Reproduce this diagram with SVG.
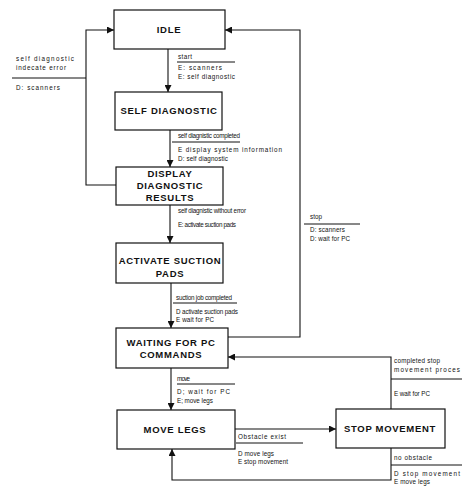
<svg xmlns="http://www.w3.org/2000/svg" width="462" height="488" viewBox="0 0 462 488">
<style>
.box{fill:#fff;stroke:#111;stroke-width:1.2}
.bt{font-family:"Liberation Sans",Arial,sans-serif;font-weight:bold;font-size:9.5px;letter-spacing:0.7px;fill:#111;text-anchor:middle}
.lb{font-family:"Liberation Sans",Arial,sans-serif;font-size:6.3px;fill:#111}
.ln{stroke:#111;stroke-width:1.1;fill:none}
.ul{stroke:#111;stroke-width:1}
</style>
<defs>
<marker id="ah" viewBox="0 0 10 10" refX="10" refY="5" markerWidth="7" markerHeight="7" orient="auto" markerUnits="userSpaceOnUse">
<path d="M0,0 L10,5 L0,10 z" fill="#111"/>
</marker>
</defs>
<rect width="462" height="488" fill="#fff"/>

<g id="connectors">
<path class="ln" d="M168,49 V92" marker-end="url(#ah)"/>
<path class="ln" d="M170,130 V167" marker-end="url(#ah)"/>
<path class="ln" d="M170,205 V243" marker-end="url(#ah)"/>
<path class="ln" d="M171,283 V328" marker-end="url(#ah)"/>
<path class="ln" d="M171,368 V410" marker-end="url(#ah)"/>
<path class="ln" d="M116,185 H86 V30 H114" marker-end="url(#ah)"/>
<path class="ln" d="M228,337 H300 V30 H225" marker-end="url(#ah)"/>
<path class="ln" d="M235,429 H336" marker-end="url(#ah)"/>
<path class="ln" d="M391,409 V357 H228" marker-end="url(#ah)"/>
<path class="ln" d="M391,448 V480 H172 V449" marker-end="url(#ah)"/>

<line class="ul" x1="12" y1="78" x2="86" y2="78"/>
<line class="ul" x1="177" y1="62" x2="235" y2="62"/>
<line class="ul" x1="172" y1="142" x2="240" y2="142"/>
<line class="ul" x1="304" y1="224" x2="360" y2="224"/>
<line class="ul" x1="173" y1="303" x2="237" y2="303"/>
<line class="ul" x1="177" y1="384" x2="235" y2="384"/>
<line class="ul" x1="236" y1="443" x2="303" y2="443"/>
<line class="ul" x1="391" y1="379" x2="462" y2="379"/>
<line class="ul" x1="391" y1="465" x2="462" y2="465"/>

<text class="lb" x="16" y="60.5" textLength="58">self diagnostic</text>
<text class="lb" x="16" y="69.5" textLength="50">indecate error</text>
<text class="lb" x="16" y="89.5" textLength="44">D: scanners</text>

<text class="lb" x="178" y="59" textLength="14">start</text>
<text class="lb" x="178" y="70" textLength="44">E: scanners</text>
<text class="lb" x="178" y="78.5" textLength="57">E: self diagnostic</text>

<text class="lb" x="178" y="137.5" textLength="62">self diagnistic completed</text>
<text class="lb" x="178" y="151.5" textLength="104">E  display system information</text>
<text class="lb" x="178" y="160.5" textLength="50">D: self diagnostic</text>

<text class="lb" x="178" y="213" textLength="68">self diagnistic without error</text>
<text class="lb" x="178" y="227" textLength="58">E: activate suction pads</text>

<text class="lb" x="310" y="219" textLength="12">stop</text>
<text class="lb" x="310" y="232" textLength="35">D: scanners</text>
<text class="lb" x="310" y="241" textLength="40">D: wait for PC</text>

<text class="lb" x="176" y="299.5" textLength="56">suction job completed</text>
<text class="lb" x="176" y="313.5" textLength="62">D  activate suction pads</text>
<text class="lb" x="176" y="321.5" textLength="38">E  wait for PC</text>

<text class="lb" x="177" y="380.5" textLength="13">move</text>
<text class="lb" x="177" y="393.5" textLength="53">D; wait for PC</text>
<text class="lb" x="177" y="402.5" textLength="36">E; move legs</text>

<text class="lb" x="238" y="438.5" textLength="48">Obstacle exist</text>
<text class="lb" x="238" y="455.5" textLength="36">D  move legs</text>
<text class="lb" x="238" y="463.5" textLength="50">E  stop movement</text>

<text class="lb" x="394" y="362.5" textLength="46">completed stop</text>
<text class="lb" x="394" y="371.5" textLength="66">movement proces</text>
<text class="lb" x="394" y="395.5" textLength="36">E  wait for PC</text>

<text class="lb" x="394" y="459.5" textLength="38">no obstacle</text>
<text class="lb" x="394" y="475.5" textLength="66">D  stop movement</text>
<text class="lb" x="394" y="484" textLength="36">E  move legs</text>
</g>

<g id="idle">
<rect class="box" x="114" y="10" width="111" height="39"/>
<text class="bt" x="169" y="33">IDLE</text>
</g>
<g id="self-diagnostic">
<rect class="box" x="115" y="92" width="107" height="38"/>
<text class="bt" x="169" y="114">SELF DIAGNOSTIC</text>
</g>
<g id="display-diagnostic-results">
<rect class="box" x="116" y="167" width="107" height="38"/>
<text class="bt" x="170" y="176.5">DISPLAY</text>
<text class="bt" x="170" y="188.5">DIAGNOSTIC</text>
<text class="bt" x="170" y="200.5">RESULTS</text>
</g>
<g id="activate-suction-pads">
<rect class="box" x="116" y="243" width="107" height="40"/>
<text class="bt" x="170" y="263.5">ACTIVATE SUCTION</text>
<text class="bt" x="170" y="276.5">PADS</text>
</g>
<g id="waiting-for-pc-commands">
<rect class="box" x="116" y="328" width="112" height="40"/>
<text class="bt" x="171" y="345.5">WAITING FOR PC</text>
<text class="bt" x="171" y="358">COMMANDS</text>
</g>
<g id="move-legs">
<rect class="box" x="117" y="410" width="118" height="39"/>
<text class="bt" x="175" y="432.5">MOVE LEGS</text>
</g>
<g id="stop-movement">
<rect class="box" x="336" y="409" width="109" height="39"/>
<text class="bt" x="390" y="431.5">STOP MOVEMENT</text>
</g>
</svg>
